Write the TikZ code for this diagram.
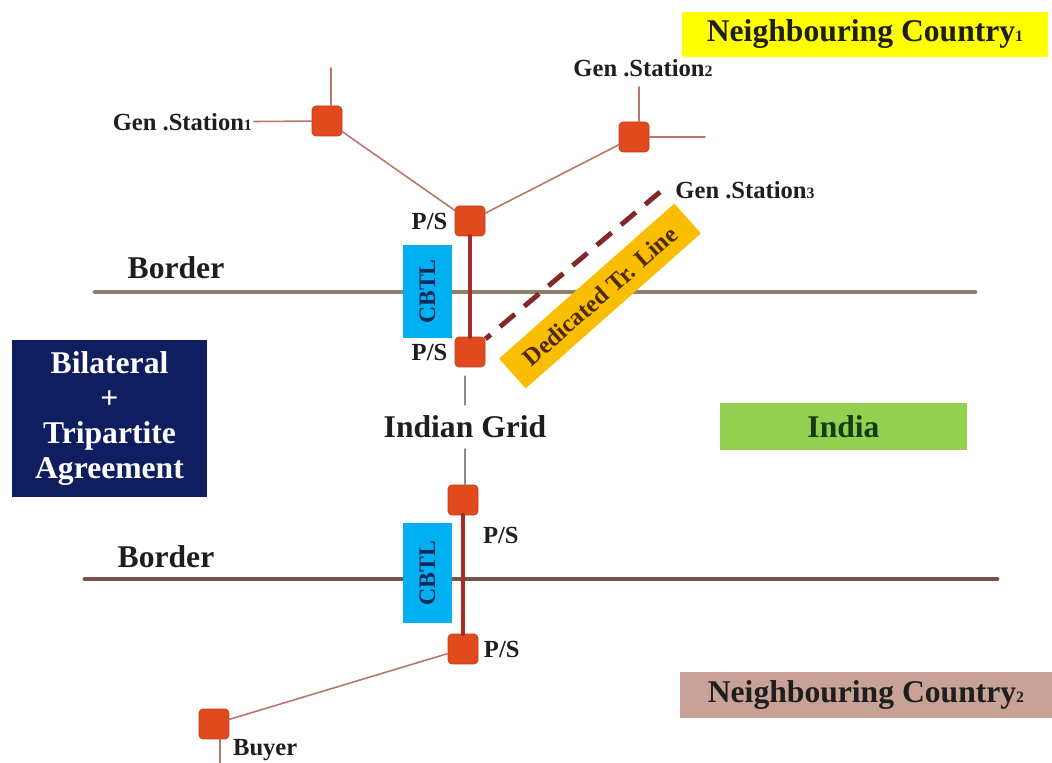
\documentclass[tikz,border=0pt]{standalone}
\usepackage{fontspec}
\setmainfont{Liberation Serif}
\usetikzlibrary{positioning}
\definecolor{sub_red}{RGB}{224,74,28}
\definecolor{sub_edge}{RGB}{190,60,25}
\definecolor{feeder_brown}{RGB}{185,118,104}
\definecolor{tie_brown}{RGB}{165,45,35}
\definecolor{dash_brown}{RGB}{130,40,40}
\definecolor{border_grey}{RGB}{140,128,108}
\definecolor{border_dark}{RGB}{120,82,70}
\definecolor{stub_grey}{RGB}{140,140,140}
\definecolor{cbtl_blue}{RGB}{0,176,240}
\definecolor{cbtl_ink}{RGB}{20,40,90}
\definecolor{line_orange}{RGB}{250,190,0}
\definecolor{line_ink}{RGB}{80,40,10}
\definecolor{agree_navy}{RGB}{15,30,95}
\definecolor{india_green}{RGB}{146,208,80}
\definecolor{india_ink}{RGB}{20,60,20}
\definecolor{nc_yellow}{RGB}{255,255,0}
\definecolor{nc_rose}{RGB}{200,162,150}
\definecolor{ink}{RGB}{30,30,30}
\newcommand{\lowdigit}[1]{{\fontsize{9}{9}\selectfont #1}}
\tikzset{
  substation/.style={draw=sub_edge, fill=sub_red, rounded corners=2.3pt, minimum size=0.6cm, inner sep=0pt},
  feeder/.style={draw=feeder_brown, line width=0.9pt},
  tieline/.style={draw=tie_brown, line width=2.8pt},
  stub/.style={draw=stub_grey, line width=0.8pt},
  borderline/.style={draw=border_grey, line width=2.8pt},
  lbl/.style={font=\fontsize{14}{16}\selectfont\bfseries, text=ink, inner sep=1pt},
  biglbl/.style={font=\fontsize{18}{20}\selectfont\bfseries, text=ink, inner sep=1pt},
  cbtlbox/.style={fill=cbtl_blue, text=cbtl_ink, font=\fontsize{13.5}{15}\selectfont\bfseries, minimum height=0.98cm, inner sep=0pt},
  countrybox/.style={biglbl, minimum width=7.32cm, minimum height=0.9cm}
}
\begin{document}
\begin{tikzpicture}[x=0.02cm, y=-0.02cm, line join=round, line cap=round]
\useasboundingbox (0,0) rectangle (1052,763);

% borders
\draw[borderline] (95,292) -- (975,292);
\draw[borderline, draw=border_dark] (85,579) -- (997,579);
\node[biglbl] (border1) at (176,268) {Border};
\node[biglbl] (border2) at (166,557) {Border};

% country tags
\node[countrybox, fill=nc_yellow] (nc1) at (865,34.5) {Neighbouring Country\lowdigit{1}};
\node[countrybox, fill=nc_rose, minimum width=7.44cm, minimum height=0.92cm] (nc2) at (866,695) {Neighbouring Country\lowdigit{2}};
\node[biglbl, fill=india_green, text=india_ink, minimum width=4.94cm, minimum height=0.94cm] (india) at (843.5,426.5) {India};
\node[biglbl, fill=agree_navy, text=white, align=center, minimum width=3.9cm, minimum height=3.14cm,
      font=\fontsize{18}{19.8}\selectfont\bfseries] (agr) at (109.5,418.5) {Bilateral\\+\\Tripartite\\Agreement};

% cross border links
\node[cbtlbox, rotate=90, minimum width=1.86cm] (cbtl1) at (427.5,291.5) {CBTL};
\node[cbtlbox, rotate=90, minimum width=2.0cm] (cbtl2) at (427.5,573) {CBTL};

% substations
\node[substation] (sub1) at (327,121) {};
\node[substation] (sub2) at (634,137) {};
\node[substation] (psA) at (470,221) {};
\node[substation] (psB) at (470,352) {};
\node[substation] (psC) at (463,500) {};
\node[substation] (psD) at (463,649) {};
\node[substation] (buy) at (214,724) {};

% labels
\node[lbl, anchor=east] (gs1) at (254,122) {Gen .Station\lowdigit{1}};
\node[lbl] (gs2) at (643,68) {Gen .Station\lowdigit{2}};
\node[lbl] (gs3) at (745,190) {Gen .Station\lowdigit{3}};
\node[lbl, left=3pt of psA] (psAl) {P/S};
\node[lbl, left=3pt of psB] (psBl) {P/S};
\node[lbl, anchor=west] (psCl) at (481,535) {P/S};
\node[lbl, right=2pt of psD] (psDl) {P/S};
\node[lbl, anchor=west] (buyl) at (231,750) {Buyer};
\node[biglbl, inner ysep=6pt] (ig) at (465,427) {Indian Grid};

\coordinate (s1up) at (331,68);
\coordinate (s2up) at (639,87);
\coordinate (s2right) at (705,137);
\coordinate (g3end) at (660,192);
\coordinate (bdown) at (220,763);

% feeders
\draw[feeder] (gs1) -- (sub1);
\draw[feeder] (s1up) -- (s1up |- sub1.north);
\draw[feeder] (s2up) -- (s2up |- sub2.north);
\draw[feeder] (sub2) -- (s2right);
\draw[feeder] (sub1) -- (psA);
\draw[feeder] (sub2) -- (psA);
\draw[feeder] (psD) -- (buy);
\draw[feeder] (bdown) -- (bdown |- buy.south);
\draw[stub] (ig.north) -- ([yshift=-5pt]ig.north |- psB.south);
\draw[stub] (ig.south) -- (ig.south |- psC.north);

% tie lines
\draw[tieline] (psA) -- (psB);
\draw[tieline] (psC) -- (psD);

% dedicated line
\draw[draw=dash_brown, line width=2.8pt, line cap=butt, dash pattern=on 11pt off 7pt] (g3end) -- (psB);
\node[fill=line_orange, text=line_ink, font=\fontsize{14}{16}\selectfont\bfseries,
      minimum width=4.68cm, minimum height=0.8cm, inner sep=0pt, rotate=41.5] (dtl) at (600,296) {Dedicated Tr. Line};

\end{tikzpicture}
\end{document}
